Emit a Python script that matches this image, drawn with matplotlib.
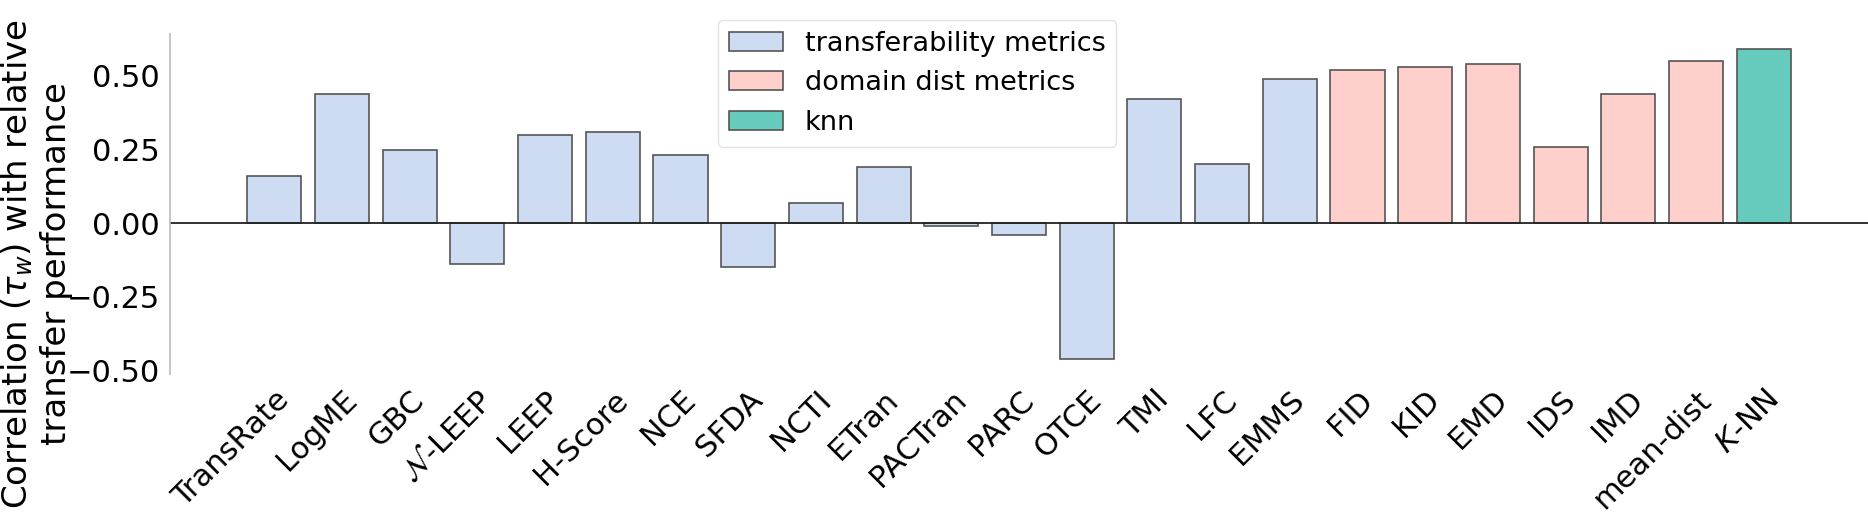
import matplotlib
matplotlib.use("Agg")
import matplotlib.pyplot as plt
from matplotlib.patches import Patch

# metric names and their correlation with relative transfer performance
metrics = ["TransRate", "LogME", "GBC", r"$\mathcal{N}$-LEEP", "LEEP", "H-Score",
           "NCE", "SFDA", "NCTI", "ETran", "PACTran", "PARC", "OTCE", "TMI",
           "LFC", "EMMS", "FID", "KID", "EMD", "IDS", "IMD", "mean-dist",
           r"$K$-NN"]
tau_w = [0.16, 0.44, 0.25, -0.14, 0.30, 0.31, 0.23, -0.15, 0.07, 0.19,
         -0.01, -0.04, -0.46, 0.42, 0.20, 0.49, 0.52, 0.53, 0.54, 0.26,
         0.44, 0.55, 0.59]
groups = ["transferability metrics"] * 16 + ["domain dist metrics"] * 6 + ["knn"]

group_colors = {
    "transferability metrics": "#cddbf3",
    "domain dist metrics": "#ffcfcc",
    "knn": "#66cbbd",
}

W, H = 1868, 518
fig = plt.figure(figsize=(W / 100, H / 100), dpi=100)
ax = fig.add_axes([170 / W, 144 / H, 1698 / W, 340 / H])

x = list(range(len(metrics)))
colors = [group_colors[g] for g in groups]
ax.bar(x, tau_w, width=0.8, color=colors, edgecolor="#555555", linewidth=1.2)
ax.axhline(0, color="#222222", linewidth=1.3)

ax.set_xticks(x)
ax.set_xticklabels(metrics, rotation=45, ha="right", rotation_mode="anchor",
                   fontsize=22)
ax.set_yticks([-0.5, -0.25, 0.0, 0.25, 0.5])
ax.set_yticklabels(["\u22120.50", "\u22120.25", "0.00", "0.25", "0.50"])
ax.tick_params(axis="both", length=0, labelsize=22)
ax.tick_params(axis="x", pad=8)
ylab = ax.set_ylabel("Correlation ($\\tau_w$) with relative\ntransfer performance",
                     fontsize=22)

for side in ["top", "right", "bottom"]:
    ax.spines[side].set_visible(False)
ax.spines["left"].set_color("#bbbbbb")
ax.spines["left"].set_linewidth(1.2)

handles = [Patch(facecolor=c, edgecolor="#555555", linewidth=1.2, label=g)
           for g, c in group_colors.items()]
ax.legend(handles=handles, loc="upper left", fontsize=19.5,
          bbox_to_anchor=(718 / W, 1 - 20 / H),
          bbox_transform=fig.transFigure, borderaxespad=0,
          framealpha=0.8, edgecolor="#dddddd", fancybox=True)

# line up the y tick labels and the y label with the reference layout
fig.canvas.draw()
r = fig.canvas.get_renderer()
bb = ax.get_yticklabels()[-1].get_window_extent(r)
pad = 3.5 + (bb.x1 - 160) * 0.72
ax.tick_params(axis="y", pad=pad)

bb = ylab.get_window_extent(r)
ylab.set_fontsize(22 * 490 / bb.height)
ax.yaxis.set_label_coords(-0.05, 0.33)
fig.canvas.draw()
bb = ylab.get_window_extent(r)
cx, cy = (bb.x0 + bb.x1) / 2, (bb.y0 + bb.y1) / 2
ax.yaxis.set_label_coords(-0.05 + (36 - cx) / 1698, 0.33 + (H - 264 - cy) / 340)

fig.savefig("out.png", dpi=100)
